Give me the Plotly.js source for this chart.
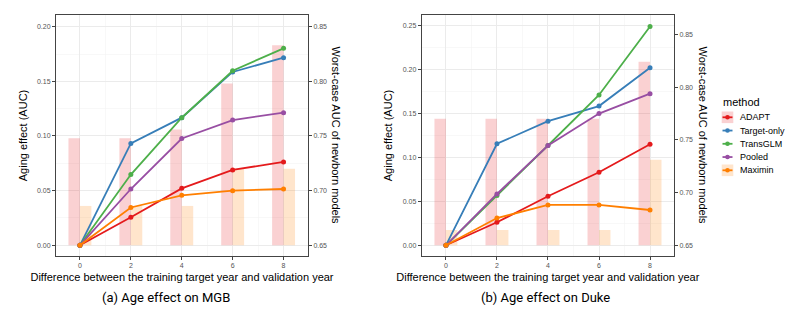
<!DOCTYPE html>
<html>
<head>
<meta charset="utf-8">
<script src="https://cdn.plot.ly/plotly-3.0.1.min.js"></script>
<style>
  html, body { margin: 0; padding: 0; background: #fff; }
  #chart { width: 790px; height: 328px; }
</style>
</head>
<body>
<div id="chart"></div>
<script>
// years between training target and validation
const years = [0, 2, 4, 6, 8];
const methods = ['ADAPT', 'Target-only', 'TransGLM', 'Pooled', 'Maximin'];
const colors = ['#E41A1C', '#377EB8', '#4DAF4A', '#984EA3', '#FF7F00'];

// (a) MGB - aging effect (AUC drop)
const mgbADAPT = [0, 0.0256, 0.0521, 0.0689, 0.0763];
const mgbTarget = [0, 0.0932, 0.1168, 0.1586, 0.1716];
const mgbTrans = [0, 0.0647, 0.1167, 0.1597, 0.1802];
const mgbPooled = [0, 0.0515, 0.0977, 0.1146, 0.1213];
const mgbMaximin = [0, 0.0346, 0.0457, 0.0500, 0.0515];
// (a) MGB - worst-case AUC of newborn models (bars)
const mgbAucADAPT = [0.748, 0.748, 0.756, 0.798, 0.833];
const mgbAucMaximin = [0.686, 0.686, 0.686, 0.720, 0.720];

// (b) Duke - aging effect
const dukeADAPT = [0, 0.0262, 0.0558, 0.0831, 0.1150];
const dukeTarget = [0, 0.1156, 0.1413, 0.1585, 0.2021];
const dukeTrans = [0, 0.0566, 0.1136, 0.1711, 0.2492];
const dukePooled = [0, 0.0584, 0.1136, 0.1500, 0.1726];
const dukeMaximin = [0, 0.0310, 0.0459, 0.0459, 0.0402];
// (b) Duke - worst-case AUC
const dukeAucADAPT = [0.770, 0.770, 0.770, 0.770, 0.824];
const dukeAucMaximin = [0.6645, 0.6645, 0.6645, 0.6645, 0.731];

const aucBase = 0.65;
const barW = 0.45;
const W = 790, H = 328;
const plotTop = 15, plotBottom = 256;
const FONT = '"Liberation Sans", Arial, sans-serif';

function pxX(px) { return px / W; }
function pxY(py) { return (plotBottom - py) / (plotBottom - plotTop); }

let data = [];

function addPanel(lines, aucA, aucM, xa, ybar, yline) {
    // bars first so they sit under the lines (dodged like ggplot, width 0.9)
    data.push({
        type: 'bar', x: years, y: aucA.map(v => v - aucBase), base: aucBase,
        width: barW, offset: -barW,
        xaxis: xa, yaxis: ybar, marker: { color: 'rgba(228,26,28,0.2)', line: { width: 0 } },
        showlegend: false, hoverinfo: 'skip'
    });
    data.push({
        type: 'bar', x: years, y: aucM.map(v => v - aucBase), base: aucBase,
        width: barW, offset: 0,
        xaxis: xa, yaxis: ybar, marker: { color: 'rgba(255,127,0,0.2)', line: { width: 0 } },
        showlegend: false, hoverinfo: 'skip'
    });
    lines.forEach((ys, i) => {
        data.push({
            type: 'scatter', mode: 'lines+markers', x: years, y: ys,
            xaxis: xa, yaxis: yline, name: methods[i],
            line: { color: colors[i], width: 1.8 },
            marker: { color: colors[i], size: 5 },
            showlegend: false
        });
    });
}

addPanel([mgbADAPT, mgbTarget, mgbTrans, mgbPooled, mgbMaximin], mgbAucADAPT, mgbAucMaximin, 'x', 'y', 'y2');
addPanel([dukeADAPT, dukeTarget, dukeTrans, dukePooled, dukeMaximin], dukeAucADAPT, dukeAucMaximin, 'x2', 'y3', 'y4');

const tickFont = { family: FONT, size: 7, color: '#555555' };
const titleFont = { family: FONT, size: 11, color: '#000000' };

function xAxis(domain, range, anchor) {
    return {
        domain: domain, range: range, anchor: anchor,
        tickvals: years, ticks: 'outside', ticklen: 3, tickcolor: '#444',
        tickfont: tickFont, showline: true, linecolor: '#444', linewidth: 1, mirror: true,
        showgrid: true, gridcolor: '#EBEBEB', gridwidth: 1, zeroline: false,
        minor: { dtick: 1, tick0: 0, showgrid: true, gridcolor: '#F3F3F3', gridwidth: 0.6 },
        title: { text: 'Difference between the training target year and validation year', font: titleFont, standoff: 4 },
        fixedrange: true
    };
}

function aucAxis(range, anchor) {
    return {
        domain: [0, 1], range: range, anchor: anchor, side: 'right',
        tick0: 0.65, dtick: 0.05, tickformat: '.2f', ticks: 'outside', ticklen: 3, tickcolor: '#444',
        tickfont: tickFont, showline: true, linecolor: '#444', linewidth: 1,
        showgrid: false, zeroline: false, fixedrange: true
    };
}

function agingAxis(range, anchor, over) {
    return {
        range: range, anchor: anchor, overlaying: over, side: 'left',
        tick0: 0, dtick: 0.05, tickformat: '.2f', ticks: 'outside', ticklen: 3, tickcolor: '#444',
        tickfont: tickFont, showline: true, linecolor: '#444', linewidth: 1,
        showgrid: true, gridcolor: '#EBEBEB', gridwidth: 1, zeroline: false,
        minor: { dtick: 0.025, tick0: 0, showgrid: true, gridcolor: '#F3F3F3', gridwidth: 0.6 },
        title: { text: 'Aging effect (AUC)', font: titleFont, standoff: 7 },
        fixedrange: true
    };
}

let annotations = [
    { text: 'Worst-case AUC of newborn models', x: pxX(336), y: 0.5, textangle: 90 },
    { text: 'Worst-case AUC of newborn models', x: pxX(703), y: 0.5, textangle: 90 }
].map(a => Object.assign({
    xref: 'paper', yref: 'paper', showarrow: false, xanchor: 'center', yanchor: 'middle', font: titleFont
}, a));

const captionFont = { family: 'Roboto, "Noto Sans", sans-serif', size: 13, color: '#000' };
annotations.push({ text: '(a) Age effect on MGB', x: pxX(166), y: pxY(297), xref: 'paper', yref: 'paper',
    showarrow: false, xanchor: 'center', yanchor: 'middle', font: captionFont });
annotations.push({ text: '(b) Age effect on Duke', x: pxX(545), y: pxY(297), xref: 'paper', yref: 'paper',
    showarrow: false, xanchor: 'center', yanchor: 'middle', font: captionFont });

// legend drawn by hand (ggplot-like compact keys)
let shapes = [];
const keyX0 = 721.7, keyX1 = 733.3, keyY0 = 117.3, keyStep = 13.25;
annotations.push({ text: 'method', x: pxX(keyX0 - 1), y: pxY(101.7), xref: 'paper', yref: 'paper',
    showarrow: false, xanchor: 'left', yanchor: 'middle', font: titleFont });
methods.forEach((m, i) => {
    const cy = keyY0 + i * keyStep;
    if (i === 0 || i === 4) {
        shapes.push({ type: 'rect', xref: 'paper', yref: 'paper', x0: pxX(keyX0), x1: pxX(keyX1),
            y0: pxY(cy + 5.8), y1: pxY(cy - 5.8), line: { width: 0 },
            fillcolor: i === 0 ? 'rgba(228,26,28,0.2)' : 'rgba(255,127,0,0.2)' });
    }
    shapes.push({ type: 'line', xref: 'paper', yref: 'paper', x0: pxX(keyX0 + 0.8), x1: pxX(keyX1 - 0.8),
        y0: pxY(cy), y1: pxY(cy), line: { color: colors[i], width: 1.8 } });
    shapes.push({ type: 'circle', xref: 'paper', yref: 'paper', xsizemode: 'pixel', ysizemode: 'pixel',
        xanchor: pxX((keyX0 + keyX1) / 2), yanchor: pxY(cy), x0: -2.3, x1: 2.3, y0: -2.3, y1: 2.3,
        fillcolor: colors[i], line: { width: 0 } });
    annotations.push({ text: m, x: pxX(738), y: pxY(cy), xref: 'paper', yref: 'paper',
        showarrow: false, xanchor: 'left', yanchor: 'middle',
        font: { family: FONT, size: 9, color: '#000' } });
});

let layout = {
    width: W, height: H,
    margin: { l: 0, r: 0, t: plotTop, b: H - plotBottom, pad: 0 },
    paper_bgcolor: '#fff', plot_bgcolor: '#fff',
    showlegend: false,
    barmode: 'overlay',
    xaxis: xAxis([pxX(56), pxX(308)], [-0.94, 8.96], 'y'),
    yaxis: aucAxis([0.6402, 0.8607], 'x'),
    yaxis2: agingAxis([-0.0098, 0.2107], 'x', 'y'),
    xaxis2: xAxis([pxX(421.7), pxX(674)], [-0.95, 8.94], 'y3'),
    yaxis3: aucAxis([0.6398, 0.8684], 'x2'),
    yaxis4: agingAxis([-0.0122, 0.2622], 'x2', 'y3'),
    annotations: annotations,
    shapes: shapes
};

Plotly.newPlot('chart', data, layout, { displayModeBar: false, staticPlot: true });
</script>
</body>
</html>
